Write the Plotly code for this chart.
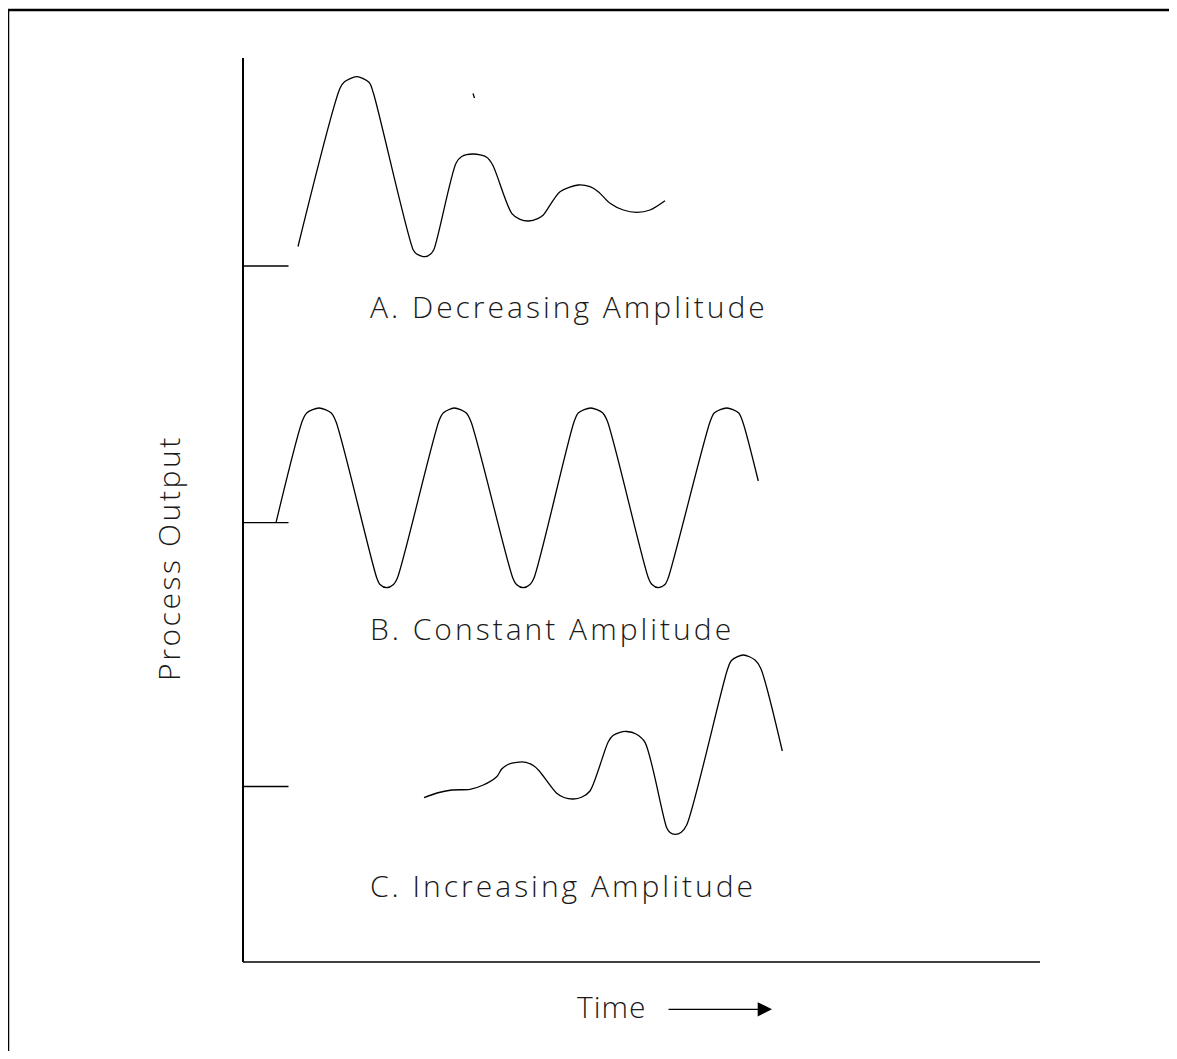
import plotly.graph_objects as go

# ---- data (screen-pixel coordinate system of the sketch) ----
# Curve A: decreasing amplitude
a_time = [298, 340, 344.5, 356.7, 369, 373.3, 413.3, 416.7, 425, 430.7, 434,
          456, 461.7, 473.3, 486.7, 492.7, 511.7, 520, 528.3, 538.3, 543.3,
          560, 578.3, 590, 598.3, 610, 623.3, 636.7, 650, 665]
a_out = [246.5, 88.3, 81.8, 76.7, 82.3, 92.7, 250, 254, 256.7, 254, 249.3,
         163.3, 156.5, 154, 157.2, 165, 213.3, 219.3, 221, 218.3, 215,
         191.7, 185, 186.7, 191.7, 203.3, 210, 212.3, 210, 200.7]

# Curve B: constant amplitude
b_time = [276, 302.7, 307, 319, 331, 336,
          376.7, 380, 386.7, 393.5, 397.3,
          439.3, 443.5, 454.3, 466, 471,
          512.7, 516.5, 523.3, 530, 534,
          574, 578.5, 590.7, 602.5, 607.3,
          648.3, 652, 658.3, 665, 668.3,
          710, 714.5, 726.7, 738.5, 742.7,
          758.3]
b_out = [522.7, 420, 412.8, 408, 412.8, 421.7,
         577.7, 584.5, 587.7, 584.5, 578.3,
         420, 412.8, 408, 412.8, 421.7,
         577.7, 584.5, 587.7, 584.5, 578,
         422, 412.8, 408, 412.8, 421,
         577.7, 584.5, 587.7, 584.5, 577.7,
         422, 412.8, 408, 412.8, 421.7,
         481]

# Curve C: increasing amplitude
c_time = [424, 437, 451.7, 470, 483.3, 496.7, 501.7, 508, 516.7, 526, 534, 539.3,
          556.7, 564, 573.3, 582, 590, 608.3, 613, 620, 626.7, 636, 645,
          666.7, 670, 675, 681, 686.7, 727.3, 731.5, 743.3, 755, 760.7, 782.3]
c_out = [797.7, 793, 790, 789.3, 785, 776.7, 769, 764.5, 762.3, 762.3, 766, 771,
         793.3, 797.5, 799, 797, 791, 741.7, 735.5, 732.3, 731.5, 734, 742.3,
         827.7, 832.5, 834.3, 832.5, 825, 670, 660.5, 655, 660, 668.3, 751]

# small stray stroke near the top of panel A
stray_time = [473, 474.5]
stray_out = [93.5, 98]

# set-point (baseline) levels for each case and their extent
baseline_levels = [266, 522.7, 786.5]
baseline_start = 243
baseline_end = 288.5

# axes frame
axis_origin = (243, 962)
axis_top = 58
axis_right = 1040

labels = ["A. Decreasing Amplitude", "B. Constant Amplitude", "C. Increasing Amplitude"]
label_x = [368, 368, 368]
label_y = [306, 628, 885]

FONT = "Open Sans"
INK = "#000000"
TEXT_INK = "#1a1a1a"


def spaced(txt, px):
    return f'<span style="letter-spacing:{px}px">{txt}</span>'


fig = go.Figure()

line_style = dict(color=INK, width=1.3)
for t, o in [(a_time, a_out), (b_time, b_out), (c_time, c_out)]:
    fig.add_trace(go.Scatter(x=t, y=o, mode="lines", line=dict(shape="spline", smoothing=0.8, **line_style),
                             hoverinfo="skip", showlegend=False))
fig.add_trace(go.Scatter(x=stray_time, y=stray_out, mode="lines", line=line_style,
                         hoverinfo="skip", showlegend=False))

# baselines
for lvl in baseline_levels:
    fig.add_trace(go.Scatter(x=[baseline_start, baseline_end], y=[lvl, lvl], mode="lines",
                             line=line_style, hoverinfo="skip", showlegend=False))

# axes lines
fig.add_trace(go.Scatter(x=[axis_origin[0], axis_origin[0]], y=[axis_top, axis_origin[1]], mode="lines",
                         line=dict(color=INK, width=2), hoverinfo="skip", showlegend=False))
fig.add_trace(go.Scatter(x=[axis_origin[0], axis_right], y=[axis_origin[1], axis_origin[1]], mode="lines",
                         line=dict(color=INK, width=1.6), hoverinfo="skip", showlegend=False))

# outer border
fig.add_shape(type="rect", x0=8, y0=10, x1=1300, y1=1200, xref="x", yref="y",
              line=dict(color=INK, width=2.5), fillcolor="rgba(0,0,0,0)")

font = dict(family=FONT, size=30, color=TEXT_INK, weight=300)
for txt, x, y in zip(labels, label_x, label_y):
    fig.add_annotation(x=x, y=y, text=spaced(txt, 3.0), showarrow=False, xanchor="left", yanchor="middle",
                       font=font)

fig.add_annotation(x=168, y=558, text=spaced("Process Output", 2.6), showarrow=False, textangle=-90,
                   xanchor="center", yanchor="middle", font=font)
fig.add_annotation(x=575, y=1006, text=spaced("Time", 1.0), showarrow=False, xanchor="left", yanchor="middle",
                   font=font)
fig.add_annotation(x=772, y=1009.3, ax=667, ay=1009.3, axref="x", ayref="y", xref="x", yref="y",
                   text="", showarrow=True, arrowhead=2, arrowsize=2.2, arrowwidth=1.3, arrowcolor=INK)

W, H = 1161, 1043
fig.update_layout(
    width=W, height=H,
    margin=dict(l=0, r=0, t=0, b=0, pad=0),
    paper_bgcolor="white", plot_bgcolor="white",
    xaxis=dict(range=[8, 8 + W], visible=False, fixedrange=True),
    yaxis=dict(range=[8 + H, 8], visible=False, fixedrange=True),
)

fig.write_html("out.html")
